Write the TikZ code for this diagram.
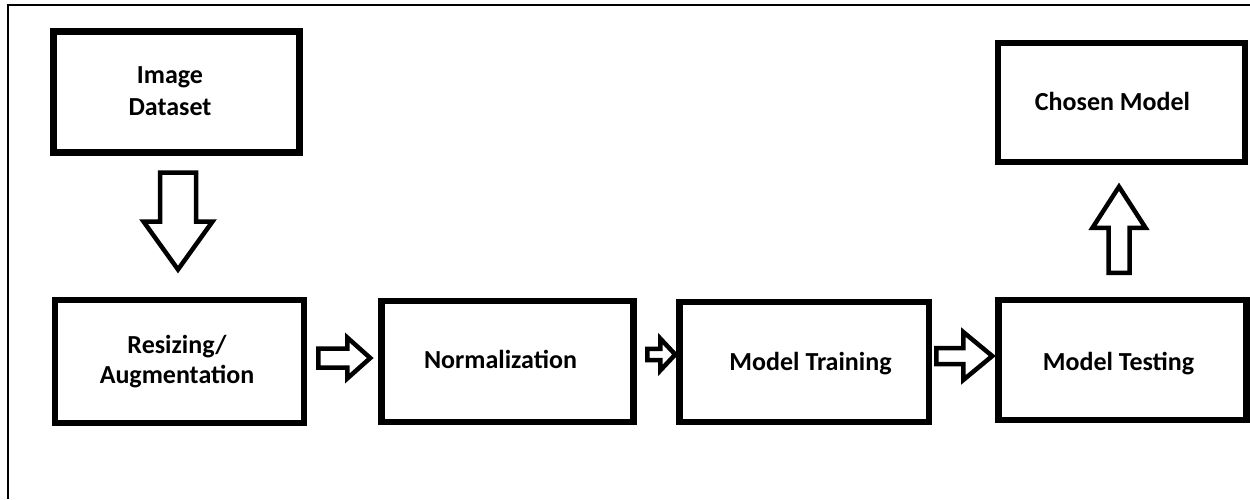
\documentclass[tikz,border=0pt]{standalone}
\usepackage{fontspec}
\setmainfont{Carlito}
\usetikzlibrary{calc}

% hollow block arrow: start point, direction angle, length, shaft half-width, head half-width, head length
\newcommand\blockarrow[6]{%
  \draw[arrowline, shift={(#1)}, rotate=#2]
    (0,-#4) -- ({#3-#6},-#4) -- ({#3-#6},-#5) -- (#3,0) -- ({#3-#6},#5) -- ({#3-#6},#4) -- (0,#4) -- cycle;}

\begin{document}
\begin{tikzpicture}[x=1pt, y=-1pt,
  stagebox/.style={draw, line width=6.5pt, inner sep=0pt, rectangle},
  caption/.style={font=\fontsize{26}{32}\selectfont\bfseries, inner sep=0pt, align=center},
  arrowline/.style={draw, line width=4.5pt, line join=miter, fill=white}]
\useasboundingbox (0,0) rectangle (1250,499);

% outer frame (top and left edges)
\draw[line width=1.6pt] (7.7,499) -- (7.7,4.8) -- (1250,4.8);
\draw[line width=2.4pt] (6.7,5.1) -- (22,5.1);

% stage boxes
\node[stagebox, line width=7pt, minimum width=246pt, minimum height=121pt] (ds) at (176.5,92) {};
\node[stagebox, line width=5.5pt, minimum width=247pt, minimum height=119pt] (cm) at (1121.5,102.5) {};
\node[stagebox, minimum width=249pt, minimum height=123pt] (rs) at (179.5,361.5) {};
\node[stagebox, minimum width=252pt, minimum height=121pt] (nm) at (507.5,361.5) {};
\node[stagebox, minimum width=249.5pt, minimum height=120pt] (mt) at (804.25,362) {};
\node[stagebox, minimum width=248pt, minimum height=120pt] (ms) at (1122.5,360) {};

% labels
\node[caption] (dsText) at (170,91) {Image\\Dataset};
\node[caption, anchor=base] (cmText) at (1112.5,110) {Chosen Model};
\node[caption, font=\fontsize{26}{30}\selectfont\bfseries] (rsText) at (177,362) {Resizing/\\Augmentation};
\node[caption, anchor=base] (nmText) at (500.5,368) {Normalization};
\node[caption, anchor=base] (mtText) at (810.5,370) {Model Training};
\node[caption, anchor=base] (msText) at (1118.5,370) {Model Testing};

% arrow start points
\coordinate (aDown) at ($(ds.south)+(1.5,16.5)$);
\coordinate (aOne)  at ($(rs.east)+(11,-3.5)$);
\coordinate (aTwo)  at ($(nm.east)+(10.5,-7)$);
\coordinate (aThree) at ($(mt.east)+(4,-6)$);
\coordinate (aUp)   at ($(ms.north)+(-3.5,-24)$);

% block arrows between stages
\blockarrow{aDown}{-90}{97}{18}{34.5}{48}
\blockarrow{aOne}{0}{52}{9.5}{20.5}{23}
\blockarrow{aTwo}{0}{28}{5.7}{16}{15}
\blockarrow{aThree}{0}{56}{8}{24}{29}
\blockarrow{aUp}{90}{86}{10.5}{26.5}{41}
\end{tikzpicture}
\end{document}
